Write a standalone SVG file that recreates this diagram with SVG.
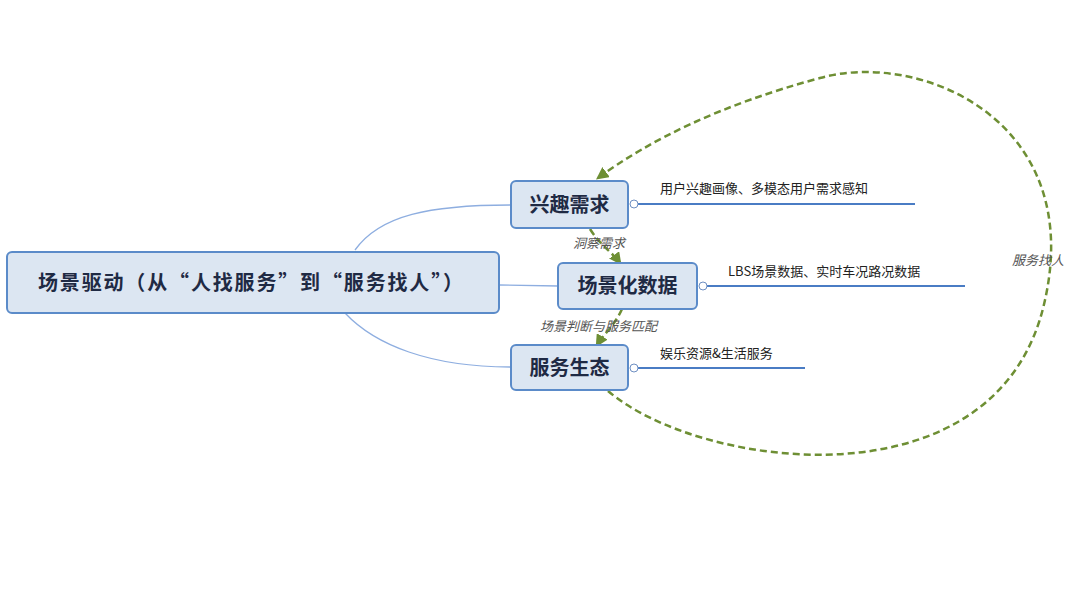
<svg xmlns="http://www.w3.org/2000/svg" width="1080" height="594" viewBox="0 0 1080 594">
<style>
.box{fill:#dce6f2;stroke:#5b8bc9;stroke-width:2}
.t{font-family:"Noto Sans CJK SC",sans-serif;font-weight:bold;fill:#1f2a44}
.s{font-family:"Noto Sans CJK SC",sans-serif;font-size:13px;fill:#222}
.i{font-family:"Noto Sans CJK SC",sans-serif;font-size:13px;font-style:italic;fill:#555}
.br{fill:none;stroke:#8eaee0;stroke-width:1.3}
.lf{fill:none;stroke:#4a7cc4;stroke-width:2}
.dc{fill:#fff;stroke:#6e8fc2;stroke-width:1}
.dash{fill:none;stroke:#6e8f34;stroke-width:2.5;stroke-dasharray:7,4}
</style>
<defs><marker id="a" viewBox="0 0 10 10" refX="8" refY="5" markerWidth="5" markerHeight="5" orient="auto"><path d="M0,0L10,5L0,10z" fill="#6e8f34"/></marker></defs>
<rect width="1080" height="594" fill="#fff"/>
<g id="connectors">
<path class="br" d="M355,250 C380,215 430,205 511,205"/>
<path class="br" d="M499,285 L558,286"/>
<path class="br" d="M345,313 C375,345 430,367 511,367"/>
<path class="lf" d="M638,204 L915,204"/><circle class="dc" cx="634" cy="204" r="4"/>
<path class="lf" d="M707,286 L965,286"/><circle class="dc" cx="703" cy="286" r="4"/>
<path class="lf" d="M638,368 L805,368"/><circle class="dc" cx="634" cy="368" r="4"/>
<path class="dash" marker-end="url(#a)" d="M608,391 C700,470 1000,510 1045,300 C1085,120 920,50 820,78 C720,105 650,140 598,178"/>
<path class="dash" stroke-width="1.5" marker-end="url(#a)" d="M590,229 C600,245 612,252 620,263"/>
<path class="dash" stroke-width="1.5" marker-end="url(#a)" d="M622,309 C615,325 603,335 597,345"/>
<text class="i" x="1012" y="265">服务找人</text>
<text class="i" x="573" y="248">洞察需求</text>
<text class="i" x="540" y="331">场景判断与服务匹配</text>
</g>
<g id="root"><rect class="box" x="7" y="252" width="492" height="61" rx="5" stroke-width="3"/><text class="t" x="38" y="290" font-size="20" textLength="425" lengthAdjust="spacing">场景驱动（从“人找服务”到“服务找人”）</text></g>
<g id="n1"><rect class="box" x="511" y="181" width="117" height="47" rx="5"/><text class="t" x="569.5" y="212" font-size="20" text-anchor="middle">兴趣需求</text><text class="s" x="660" y="193">用户兴趣画像、多模态用户需求感知</text></g>
<g id="n2"><rect class="box" x="558" y="263" width="139" height="46" rx="5"/><text class="t" x="627.5" y="293" font-size="20" text-anchor="middle">场景化数据</text><text class="s" x="728" y="276">LBS场景数据、实时车况路况数据</text></g>
<g id="n3"><rect class="box" x="511" y="345" width="117" height="45" rx="5"/><text class="t" x="569.5" y="375" font-size="20" text-anchor="middle">服务生态</text><text class="s" x="660" y="358">娱乐资源&amp;生活服务</text></g>
</svg>
